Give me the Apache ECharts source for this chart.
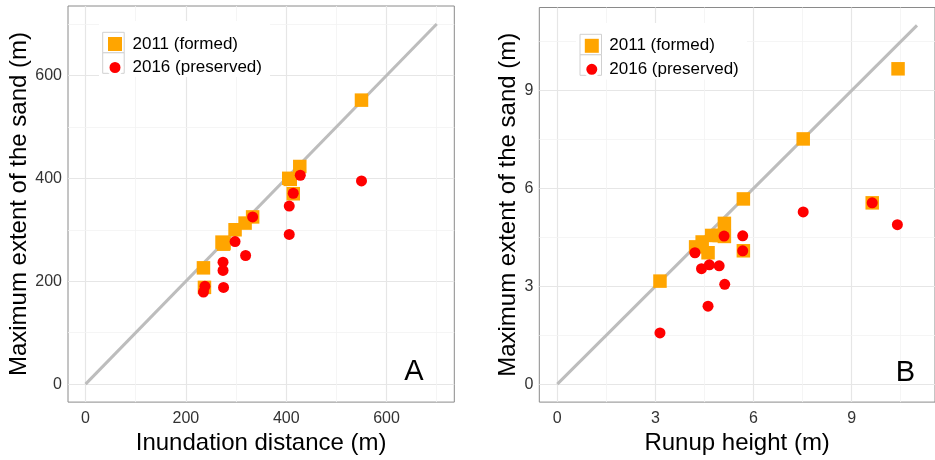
<!DOCTYPE html>
<html><head><meta charset="utf-8">
<script src="https://cdn.jsdelivr.net/npm/echarts@6/dist/echarts.min.js"></script>
<style>html,body{margin:0;padding:0;background:#fff}#c{width:935px;height:460px}</style>
</head><body><div id="c"></div>
<script>
// ---------- data ----------
const seriesNames = ['2011 (formed)', '2016 (preserved)'];
// Panel A: inundation distance (m) vs maximum extent of sand (m)
const inundFormed = [[235,226],[237,188],[272,276],[275,272],[276,274],[298,300],[318,313],[333,325],[405,400],[408,398],[414,370],[427,423],[550,552]];
const inundPreserved = [[235,179],[238,190],[274,237],[274,221],[275,188],[298,277],[319,250],[333,325],[406,346],[406,291],[414,371],[428,406],[550,395]];
// Panel B: runup height (m) vs maximum extent of sand (m)
const runupFormed = [[3.14,3.16],[4.23,4.21],[4.43,4.36],[4.72,4.56],[4.61,4.03],[4.95,4.56],[5.11,4.93],[5.11,4.53],[5.69,5.68],[5.69,4.09],[7.52,7.52],[9.63,5.56],[10.42,9.67]];
const runupPreserved = [[3.14,1.57],[4.21,4.03],[4.41,3.54],[4.65,3.66],[4.95,3.63],[5.12,3.06],[4.61,2.39],[5.10,4.54],[5.67,4.55],[5.67,4.09],[7.52,5.28],[9.63,5.56],[10.40,4.89]];
// 1:1 lines
const oneToOneA = [[0,0],[700,700]];
const oneToOneB = [[0,0],[11,11]];
// ticks
const ticksA = [0,200,400,600];
const minorA = [100,300,500,700];
const ticksB = [0,3,6,9];
const minorB = [1.5,4.5,7.5,10.5];
const rangeA = [-35,735];
const rangeB = [-0.55,11.55];
const titlesA = ['Inundation distance (m)','Maximum extent of the sand (m)'];
const titlesB = ['Runup height (m)','Maximum extent of the sand (m)'];
const panelLabels = ['A','B'];

// ---------- styles ----------
const FONT = '"Liberation Sans", Arial, Helvetica, sans-serif';
const ORANGE = '#FFA500', RED = '#FF0000';
const MAJOR = '#e6e6e6', MINOR = '#f3f3f3';

function gridLines(major, minor){
  const d = [];
  const maj = {color:MAJOR, width:1.2, type:'solid'};
  const mnr = {color:MINOR, width:0.8, type:'solid'};
  major.forEach(v=>{ d.push({xAxis:v, lineStyle:maj}); d.push({yAxis:v, lineStyle:maj}); });
  minor.forEach(v=>{ d.push({xAxis:v, lineStyle:mnr}); d.push({yAxis:v, lineStyle:mnr}); });
  return d;
}
function axisOf(kind, gi, range, ticks, name, gap, margin){
  return {gridIndex:gi, type:'value', min:range[0], max:range[1],
    axisLine:{show:false},
    axisTick:{show:true, customValues:ticks, length:4, lineStyle:{color:'#888'}},
    axisLabel:{customValues:ticks, fontSize:16, color:'#333', margin:margin, fontFamily:FONT},
    splitLine:{show:false}, minorSplitLine:{show:false},
    name:name, nameLocation:'middle', nameGap:gap,
    nameTextStyle:{fontSize:24, color:'#000', fontFamily:FONT}};
}
function panelSeries(i, oneToOne, formed, preserved, major, minor){
  return [
    {type:'line', xAxisIndex:i, yAxisIndex:i, data:oneToOne, showSymbol:false, symbol:'none', silent:true,
     lineStyle:{color:'#bdbdbd', width:3}, z:1.5, animation:false,
     markLine:{silent:true, symbol:['none','none'], label:{show:false}, z:1, animation:false,
       lineStyle:{type:'solid'}, emphasis:{disabled:true}, data:gridLines(major, minor)}},
    {type:'scatter', name:seriesNames[0], xAxisIndex:i, yAxisIndex:i, data:formed,
     symbol:'rect', symbolSize:13.5, itemStyle:{color:ORANGE, opacity:1}, z:2},
    {type:'scatter', name:seriesNames[1], xAxisIndex:i, yAxisIndex:i, data:preserved,
     symbol:'circle', symbolSize:11, itemStyle:{color:RED, opacity:1}, z:3}
  ];
}
function legendOf(left, top){
  return {orient:'vertical', left:left, top:top, itemWidth:14, itemHeight:14, itemGap:6.5, padding:0, z:6,
    selectedMode:false,
    textStyle:{fontSize:17, color:'#000', fontFamily:FONT, padding:[0,0,0,5.5], lineHeight:14},
    data:[{name:seriesNames[0], icon:'rect'},
          {name:seriesNames[1], icon:'circle', itemStyle:{borderColor:'#fff', borderWidth:3}}]};
}
function legendBoxes(bg, keyX, keyY){
  return [
    {type:'rect', shape:{x:bg[0], y:bg[1], width:bg[2], height:bg[3]}, style:{fill:'#fff'}, z:4, silent:true},
    {type:'rect', shape:{x:keyX, y:keyY, width:21.5, height:20.5}, style:{fill:'#fff', stroke:'#d0d0d0', lineWidth:1}, z:5, silent:true},
    {type:'rect', shape:{x:keyX, y:keyY+20.5, width:21.5, height:20.5}, style:{fill:'#fff', stroke:'#d0d0d0', lineWidth:1}, z:5, silent:true}
  ];
}

const option = {
  animation:false,
  backgroundColor:'#fff',
  textStyle:{fontFamily:FONT},
  grid:[
    {left:68, top:6, width:386.3, height:402.3, show:true, borderColor:'#8a8a8a', borderWidth:1, backgroundColor:'transparent', containLabel:false},
    {left:539.3, top:7.5, width:404.6, height:402.4, show:true, borderColor:'#8a8a8a', borderWidth:1, backgroundColor:'transparent', containLabel:false}
  ],
  xAxis:[axisOf('x',0, rangeA, ticksA, titlesA[0], 22, 8), axisOf('x',1, rangeB, ticksB, titlesB[0], 22, 8)],
  yAxis:[axisOf('y',0, rangeA, ticksA, titlesA[1], 35, 6), axisOf('y',1, rangeB, ticksB, titlesB[1], 18, 6)],
  legend:[legendOf(106.5, 35.5), legendOf(583.3, 37.3)],
  series:[].concat(
    panelSeries(0, oneToOneA, inundFormed, inundPreserved, ticksA, minorA),
    panelSeries(1, oneToOneB, runupFormed, runupPreserved, ticksB, minorB)
  ),
  graphic:[].concat(
    legendBoxes([99,21,171,56], 102.7, 32.3),
    legendBoxes([576,23,171,56.5], 580, 34.3),
    [
      {type:'text', x:414, y:372, z:6, silent:true,
       style:{text:panelLabels[0], fill:'#000', font:'29px '+FONT, textAlign:'center', textVerticalAlign:'middle'}},
      {type:'text', x:905.5, y:373, z:6, silent:true,
       style:{text:panelLabels[1], fill:'#000', font:'29px '+FONT, textAlign:'center', textVerticalAlign:'middle'}}
    ]
  )
};
const chart = echarts.init(document.getElementById('c'), null, {renderer:'canvas', width:935, height:460});
chart.setOption(option);
</script>
</body></html>
